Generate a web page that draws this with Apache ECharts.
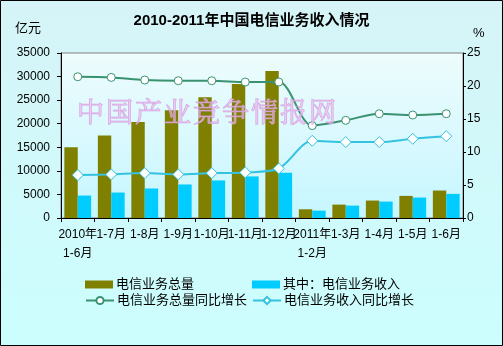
<!DOCTYPE html>
<html>
<head>
<meta charset="utf-8">
<script src="https://cdn.jsdelivr.net/npm/echarts@6/dist/echarts.min.js"></script>
<style>
  html, body { margin: 0; padding: 0; }
  #chart { width: 503px; height: 346px; }
</style>
</head>
<body>
<div id="chart"></div>
<script>
// Periods (cumulative months)
const periods = ['2010年\n1-6月', '1-7月', '1-8月', '1-9月', '1-10月', '1-11月', '1-12月',
                 '2011年\n1-2月', '1-3月', '1-4月', '1-5月', '1-6月'];
// 亿元
const businessVolume = [15000, 17500, 20340, 22830, 25610, 28450, 31160, 1850, 2840, 3700, 4690, 5830];
const businessRevenue = [4760, 5400, 6260, 7110, 7970, 8820, 9600, 1560, 2630, 3480, 4340, 5120];
// %
const volumeGrowth = [21.4, 21.3, 20.9, 20.8, 20.8, 20.6, 20.6, 14.0, 14.8, 15.8, 15.6, 15.8];
const revenueGrowth = [6.5, 6.6, 6.8, 6.6, 6.8, 6.9, 7.5, 11.7, 11.5, 11.5, 12.0, 12.4];

const leftTicks = { min: 0, max: 35000, interval: 5000 };
const rightTicks = { min: 0, max: 25, interval: 5 };

const names = ['电信业务总量', '其中：电信业务收入', '电信业务总量同比增长', '电信业务收入同比增长'];
const colors = ['#808000', '#00CCFF', '#3A9270', '#33C3E0'];
const watermark = '中国产业竞争情报网';

const font = 'Arial, "Liberation Sans", "Noto Sans CJK SC", sans-serif';

const chart = echarts.init(document.getElementById('chart'), null, { renderer: 'canvas' });

function legendAt(name, left, top, w, h, icon) {
  const lg = {
    data: [name], left: left, top: top, itemWidth: w, itemHeight: h, itemGap: 0,
    padding: 0, selectedMode: false,
    textStyle: { fontSize: 13, color: '#000', fontFamily: font, padding: [0, 0, 0, -2] }
  };
  if (icon) lg.icon = icon;
  return lg;
}

// faint site mark laid over the plot, one glyph per slot
const markGlyphs = watermark.split('').map((ch, i) => ({
  type: 'text', x: 77 + i * 29, y: 98, z: 100, silent: true,
  style: {
    text: ch,
    font: '27px "Noto Serif CJK SC", "Noto Sans CJK SC", serif',
    fill: 'rgba(240,190,240,0.55)',
    stroke: 'rgba(210,150,220,0.8)', lineWidth: 1
  }
}));

chart.setOption({
  animation: false,
  backgroundColor: {
    type: 'linear', x: 0, y: 0, x2: 0, y2: 1,
    colorStops: [{ offset: 0, color: '#D6F4F7' }, { offset: 1, color: '#CCFEFE' }]
  },
  title: {
    text: '2010-2011年中国电信业务收入情况',
    left: 'center', top: 8,
    textStyle: { fontSize: 15, fontWeight: 'bold', color: '#000', fontFamily: font }
  },
  grid: {
    left: 61, right: 40, top: 53, bottom: 128, show: true,
    borderColor: '#808080', borderWidth: 1,
    backgroundColor: {
      type: 'linear', x: 0, y: 0, x2: 0, y2: 1,
      colorStops: [{ offset: 0, color: '#EEFCFD' }, { offset: 1, color: '#C6F6FF' }]
    }
  },
  legend: [
    legendAt(names[0], 85, 278, 28, 8, 'rect'),
    legendAt(names[1], 252, 278, 28, 8, 'rect'),
    legendAt(names[2], 85, 294, 28, 9),
    legendAt(names[3], 252, 294, 28, 9)
  ],
  xAxis: {
    type: 'category', data: periods,
    axisLine: { lineStyle: { color: '#000', width: 1 } },
    axisTick: { show: true, inside: false, length: 4, lineStyle: { color: '#000' } },
    axisLabel: {
      interval: 0, hideOverlap: false, margin: 7, fontSize: 12, lineHeight: 19,
      color: '#000', fontFamily: font
    }
  },
  yAxis: [
    {
      type: 'value', min: leftTicks.min, max: leftTicks.max, interval: leftTicks.interval,
      axisLine: { show: true, lineStyle: { color: '#000' } },
      axisTick: { show: true, length: 4, lineStyle: { color: '#000' } },
      axisLabel: { fontSize: 12, color: '#000', margin: 11, fontFamily: font, formatter: v => String(v) },
      splitLine: { show: false }
    },
    {
      type: 'value', min: rightTicks.min, max: rightTicks.max, interval: rightTicks.interval,
      position: 'right',
      axisLine: { show: true, lineStyle: { color: '#000' } },
      axisTick: { show: true, length: 3, lineStyle: { color: '#000' } },
      axisLabel: { fontSize: 12, color: '#000', margin: 4, fontFamily: font, formatter: v => String(v) },
      splitLine: { show: false }
    }
  ],
  series: [
    {
      name: names[0], type: 'bar', data: businessVolume, yAxisIndex: 0,
      barGap: '0%', barCategoryGap: '20%',
      itemStyle: { color: colors[0] }
    },
    {
      name: names[1], type: 'bar', data: businessRevenue, yAxisIndex: 0,
      barGap: '0%', barCategoryGap: '20%',
      itemStyle: { color: colors[1] }
    },
    {
      name: names[2], type: 'line', data: volumeGrowth, yAxisIndex: 1,
      smooth: 0.3, symbol: 'circle', symbolSize: 8,
      lineStyle: { color: colors[2], width: 2 },
      itemStyle: { color: '#FFFFFF', borderColor: colors[2], borderWidth: 1 }
    },
    {
      name: names[3], type: 'line', data: revenueGrowth, yAxisIndex: 1,
      smooth: 0.3, symbol: 'diamond', symbolSize: 11,
      lineStyle: { color: colors[3], width: 2 },
      itemStyle: { color: '#FFFFFF', borderColor: colors[3], borderWidth: 1 }
    }
  ],
  graphic: [
    {
      type: 'text', left: 15, top: 22, z: 10,
      style: { text: '亿元', fill: '#000', font: '13px ' + font }
    },
    {
      type: 'text', left: 473, top: 27, z: 10,
      style: { text: '%', fill: '#000', font: '13px ' + font }
    }
  ].concat(markGlyphs, [
    {
      type: 'rect', z: 200, silent: true,
      shape: { x: 0.5, y: 0.5, width: 502, height: 345 },
      style: { fill: 'none', stroke: '#000', lineWidth: 1 }
    }
  ])
});
</script>
</body>
</html>
